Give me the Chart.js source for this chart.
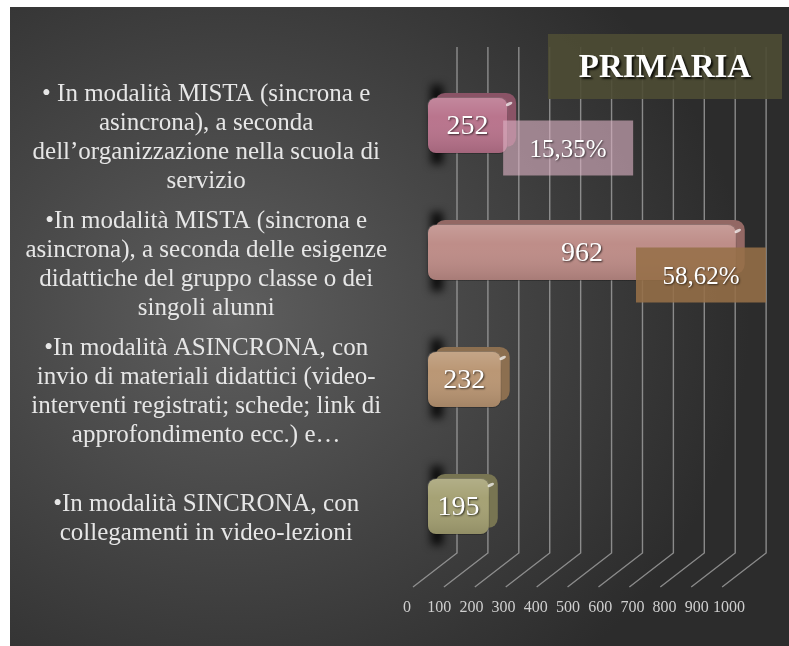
<!DOCTYPE html>
<html>
<head>
<meta charset="utf-8">
<title>Primaria</title>
<script src="https://cdn.jsdelivr.net/npm/chart.js@4.4.1/dist/chart.umd.min.js"></script>
<style>
  body { margin: 0; background: #fff; }
  #wrap { position: relative; width: 789px; height: 646px; overflow: hidden; }
  #panel {
    position: absolute; left: 10px; top: 7px; right: 0; bottom: 0;
    background: radial-gradient(ellipse 520px 460px at 220px 310px, #5e5e5e 0%, #474747 45%, #2c2c2c 100%);
  }
  canvas { position: absolute; left: 0; top: 0; }
</style>
<script>
// dati del grafico
const categories = [
    ['• In modalità MISTA (sincrona e', 'asincrona), a seconda', 'dell’organizzazione nella scuola di', 'servizio'],
    ['•In modalità MISTA (sincrona e', 'asincrona), a seconda delle esigenze', 'didattiche del gruppo classe o dei', 'singoli alunni'],
    ['•In modalità ASINCRONA, con', 'invio di materiali didattici (video-', 'interventi registrati; schede; link di', 'approfondimento ecc.) e…'],
    ['•In modalità SINCRONA, con', 'collegamenti in video-lezioni']
];
const values = [252, 962, 232, 195];
const percentLabels = ['15,35%', '58,62%', null, null];
const axisMin = 0;
const axisMax = 1000;
const axisStep = 100;
const chartTitle = 'PRIMARIA';

const barColors = ['#b8728b', '#bd8b86', '#b99572', '#a4a072'];
const sideColors = ['#8a5366', '#936864', '#8c6f50', '#787552'];
const percentBoxColors = ['rgba(220,178,195,0.62)', 'rgba(150,112,72,0.88)'];
const serif = "'Liberation Serif', 'DejaVu Serif', serif";

// ombra, lato destro e riflesso delle barre (effetto 3D)
const bar3d = {
    id: 'bar3d',
    beforeDatasetsDraw(chart) {
        const ctx = chart.ctx;
        chart.getDatasetMeta(0).data.forEach((el, i) => {
            const h = el.height, top = el.y - h / 2;
            ctx.save();
            ctx.filter = 'blur(4px)';
            ctx.fillStyle = 'rgba(0,0,0,0.85)';
            ctx.fillRect(el.base + 4, top - 12, 12, h + 22);
            ctx.restore();
            // faccia superiore e lato destro
            ctx.save();
            ctx.fillStyle = sideColors[i];
            ctx.beginPath();
            ctx.roundRect(el.base + 8, top - 4, el.x - el.base, h - 3, 10);
            ctx.fill();
            ctx.restore();
        });
    },
    afterDatasetsDraw(chart) {
        const ctx = chart.ctx;
        chart.getDatasetMeta(0).data.forEach((el, i) => {
            const h = el.height, top = el.y - h / 2;
            ctx.save();
            // sfumatura sul fronte
            const g = ctx.createLinearGradient(0, top, 0, top + h);
            g.addColorStop(0, 'rgba(255,255,255,0.16)');
            g.addColorStop(0.35, 'rgba(255,255,255,0.02)');
            g.addColorStop(1, 'rgba(0,0,0,0.12)');
            ctx.fillStyle = g;
            ctx.beginPath();
            ctx.roundRect(el.base, top, el.x - el.base, h, 9);
            ctx.fill();
            ctx.fillStyle = 'rgba(255,255,255,0.7)';
            ctx.beginPath();
            ctx.ellipse(el.x + 1, top + 7, 3.5, 1.5, -0.5, 0, Math.PI * 2);
            ctx.fill();
            // valore
            ctx.font = '28px ' + serif;
            ctx.textAlign = 'center';
            ctx.textBaseline = 'middle';
            ctx.shadowColor = 'rgba(0,0,0,0.7)';
            ctx.shadowOffsetX = 1;
            ctx.shadowOffsetY = 1;
            ctx.shadowBlur = 2;
            ctx.fillStyle = '#ffffff';
            ctx.fillText(values[i], (el.base + el.x) / 2, el.y + 1);
            ctx.restore();
        });
        // etichette percentuali
        const area = chart.chartArea;
        chart.getDatasetMeta(0).data.forEach((el, i) => {
            if (!percentLabels[i]) return;
            const w = 130, h = 55;
            const left = Math.min(el.x - 5, area.right + 17 - w);
            const top = el.y - 5;
            ctx.save();
            ctx.fillStyle = percentBoxColors[i];
            ctx.fillRect(left, top, w, h);
            ctx.font = '25px ' + serif;
            ctx.textAlign = 'center';
            ctx.textBaseline = 'middle';
            ctx.shadowColor = 'rgba(0,0,0,0.6)';
            ctx.shadowOffsetX = 1;
            ctx.shadowOffsetY = 1;
            ctx.shadowBlur = 2;
            ctx.fillStyle = '#ffffff';
            ctx.fillText(percentLabels[i], left + w / 2, top + h / 2 + 2);
            ctx.restore();
        });
        // titolo
        ctx.save();
        ctx.fillStyle = 'rgba(78,76,52,0.9)';
        ctx.fillRect(548, 34, 234, 65);
        ctx.font = 'bold 33px ' + serif;
        ctx.textAlign = 'center';
        ctx.textBaseline = 'middle';
        ctx.shadowColor = 'rgba(0,0,0,0.8)';
        ctx.shadowOffsetX = 2;
        ctx.shadowOffsetY = 2;
        ctx.shadowBlur = 2;
        ctx.fillStyle = '#ffffff';
        ctx.fillText(chartTitle, 665, 68);
        ctx.restore();
    }
};

// griglia in prospettiva: parete di fondo + pavimento
const grid3d = {
    id: 'grid3d',
    beforeDatasetsDraw(chart) {
        const ctx = chart.ctx;
        const xs = chart.scales.x;
        const area = chart.chartArea;
        ctx.save();
        ctx.strokeStyle = 'rgba(170,170,170,0.75)';
        ctx.lineWidth = 1.4;
        xs.ticks.forEach(t => {
            const fx = xs.getPixelForValue(t.value);
            const bx = area.left + 30 + (fx - area.left) * 0.96;
            ctx.beginPath();
            ctx.moveTo(bx, 47);
            ctx.lineTo(bx, area.bottom - 17);
            ctx.lineTo(bx - 44, area.bottom + 17);
            ctx.stroke();
        });
        ctx.restore();
    }
};

onload = function () {
    const ctx = document.getElementById('grafico').getContext('2d');
    new Chart(ctx, {
        type: 'bar',
        data: {
            labels: categories,
            datasets: [{
                data: values,
                backgroundColor: barColors,
                borderColor: 'rgba(0,0,0,0.15)',
                borderWidth: 1,
                borderRadius: 9,
                borderSkipped: false,
                categoryPercentage: 1,
                barPercentage: 0.45
            }]
        },
        options: {
            indexAxis: 'y',
            responsive: false,
            animation: false,
            layout: { padding: { left: 10, right: 40, top: 62, bottom: 24 } },
            plugins: {
                legend: { display: false },
                tooltip: { enabled: false }
            },
            scales: {
                x: {
                    min: axisMin,
                    max: axisMax,
                    grid: { display: false },
                    border: { display: false },
                    afterFit: s => { s.height = 52; },
                    ticks: {
                        stepSize: axisStep,
                        callback: v => String(v),
                        labelOffset: -20,
                        padding: 20,
                        maxRotation: 0,
                        autoSkip: false,
                        color: '#cfcfcf',
                        font: { family: serif, size: 16 }
                    }
                },
                y: {
                    grid: { display: false },
                    border: { display: false },
                    afterFit: s => {
                        s.width = 417;
                        s.paddingTop = 0;
                        s.paddingBottom = 0;
                    },
                    ticks: {
                        crossAlign: 'center',
                        padding: 32,
                        labelOffset: 12,
                        color: '#e6e6e6',
                        font: { family: serif, size: 25, lineHeight: 1.16 }
                    }
                }
            }
        },
        plugins: [grid3d, bar3d]
    });
};
</script>
</head>
<body>
<div id="wrap">
  <div id="panel"></div>
  <canvas id="grafico" width="789" height="646"></canvas>
</div>
</body>
</html>
